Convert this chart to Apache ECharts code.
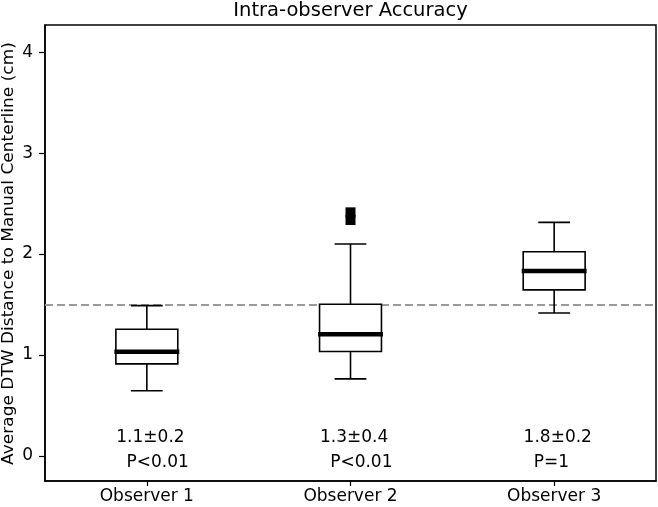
<!DOCTYPE html>
<html>
<head>
<meta charset="utf-8">
<script src="https://cdn.jsdelivr.net/npm/echarts@6/dist/echarts.min.js"></script>
<style>html,body{margin:0;padding:0;background:#fff}#c{width:658px;height:507px}</style>
</head>
<body>
<div id="c"></div>
<script>
// ---- data ----
const categories = ['Observer 1', 'Observer 2', 'Observer 3'];
const whiskerLow = [0.644, 0.762, 1.416];
const q1 = [0.911, 1.033, 1.644];
const median = [1.03, 1.205, 1.832];
const q3 = [1.254, 1.502, 2.023];
const whiskerHigh = [1.488, 2.099, 2.314];
const outlierGroup = [2, 2];          // 1-based category index of each outlier
const outlierValue = [2.413, 2.337];
const meanSdText = ['1.1±0.2', '1.3±0.4', '1.8±0.2'];
const pValueText = ['P<0.01', 'P<0.01', 'P=1'];
const referenceLine = 1.5;
const yTicks = [0, 1, 2, 3, 4];
const titleText = 'Intra-observer Accuracy';
const yAxisTitle = 'Average DTW Distance to Manual Centerline (cm)';

// ---- chart ----
const FONT = 'DejaVu Sans';
const chart = echarts.init(document.getElementById('c'), null, {renderer: 'canvas'});
const positions = categories.map((_, i) => i + 1);
const boxData = positions.map((p, i) => [p, whiskerLow[i], q1[i], median[i], q3[i], whiskerHigh[i]]);
const outlierData = outlierGroup.map((g, i) => [g, outlierValue[i]]);
const annoData = [];
positions.forEach((p, i) => {
  annoData.push([p - 0.15, 0.178, meanSdText[i]]);
  annoData.push([p - 0.10, -0.069, pValueText[i]]);
});

const BOX_HALF = 0.152, CAP_HALF = 0.078;

chart.setOption({
  animation: false,
  backgroundColor: '#fff',
  graphic: [{
    type: 'text', x: 350.5, y: 10.5,
    style: {text: titleText, fontFamily: FONT, fontSize: 19.5, fill: '#000', textAlign: 'center', textVerticalAlign: 'middle'}
  }, {
    type: 'text', x: 9, y: 253.5, rotation: Math.PI / 2, scaleX: 1, scaleY: 0.93,
    style: {text: yAxisTitle, fontFamily: FONT, fontSize: 17, fill: '#000', textAlign: 'center', textVerticalAlign: 'middle'}
  }],
  grid: {left: 45, right: 2, top: 25, bottom: 26, show: true, borderColor: '#000', borderWidth: 1.5,
    backgroundColor: 'transparent', containLabel: false, outerBoundsMode: 'none'},
  xAxis: {
    type: 'value', min: 0.5, max: 3.5,
    splitLine: {show: false},
    axisLine: {show: true, onZero: false, lineStyle: {color: '#000', width: 1.5}},
    axisTick: {show: true, length: 5, lineStyle: {color: '#000', width: 1.2}, customValues: positions},
    axisLabel: {color: '#000', fontFamily: FONT, fontSize: 17, margin: 7, customValues: positions,
      formatter: v => categories[Math.round(v) - 1] || ''}
  },
  yAxis: {
    type: 'value', min: -0.25, max: 4.27,
    splitLine: {show: false},
    axisLine: {show: true, onZero: false, lineStyle: {color: '#000', width: 1.5}},
    axisTick: {show: true, length: 6, lineStyle: {color: '#000', width: 1.2}, customValues: yTicks},
    axisLabel: {color: '#000', fontFamily: FONT, fontSize: 17, margin: 12, customValues: yTicks,
      formatter: v => String(v)}
  },
  series: [
    {
      type: 'line', data: [], silent: true, z: 1,
      markLine: {
        silent: true, symbol: 'none', label: {show: false},
        lineStyle: {color: '#999', width: 2, type: [8, 4]},
        data: [{yAxis: referenceLine}]
      }
    },
    {
      type: 'custom', z: 5, silent: true,
      data: boxData,
      renderItem: function (params, api) {
        const x = api.value(0);
        const lo = api.value(1), a = api.value(2), m = api.value(3), b = api.value(4), hi = api.value(5);
        const pL = api.coord([x - BOX_HALF, b]);
        const pR = api.coord([x + BOX_HALF, a]);
        const c = api.coord([x, m]);
        const capL = api.coord([x - CAP_HALF, lo])[0];
        const capR = api.coord([x + CAP_HALF, lo])[0];
        const yLo = api.coord([x, lo])[1], yHi = api.coord([x, hi])[1];
        const yA = pR[1], yB = pL[1];
        const ls = {stroke: '#000', lineWidth: 1.6, fill: null};
        return {
          type: 'group',
          children: [
            {type: 'line', shape: {x1: c[0], y1: yA, x2: c[0], y2: yLo}, style: ls},
            {type: 'line', shape: {x1: c[0], y1: yB, x2: c[0], y2: yHi}, style: ls},
            {type: 'line', shape: {x1: capL, y1: yLo, x2: capR, y2: yLo}, style: ls},
            {type: 'line', shape: {x1: capL, y1: yHi, x2: capR, y2: yHi}, style: ls},
            {type: 'rect', shape: {x: pL[0], y: yB, width: pR[0] - pL[0], height: yA - yB}, style: {stroke: '#000', lineWidth: 1.6, fill: '#fff'}},
            {type: 'line', shape: {x1: pL[0] - 1.5, y1: c[1], x2: pR[0] + 1.5, y2: c[1]}, style: {stroke: '#000', lineWidth: 4.5}}
          ]
        };
      }
    },
    {
      type: 'scatter', z: 6, silent: true,
      symbol: 'rect', symbolSize: [10, 10],
      itemStyle: {color: '#000', opacity: 1},
      data: outlierData
    },
    {
      type: 'custom', z: 6, silent: true,
      data: annoData,
      renderItem: function (params, api) {
        const p = api.coord([api.value(0), api.value(1)]);
        return {
          type: 'text', x: p[0], y: p[1],
          style: {text: annoData[params.dataIndex][2], fontFamily: FONT, fontSize: 17, fill: '#000', textAlign: 'left', textVerticalAlign: 'middle'}
        };
      }
    }
  ]
});
</script>
</body>
</html>
